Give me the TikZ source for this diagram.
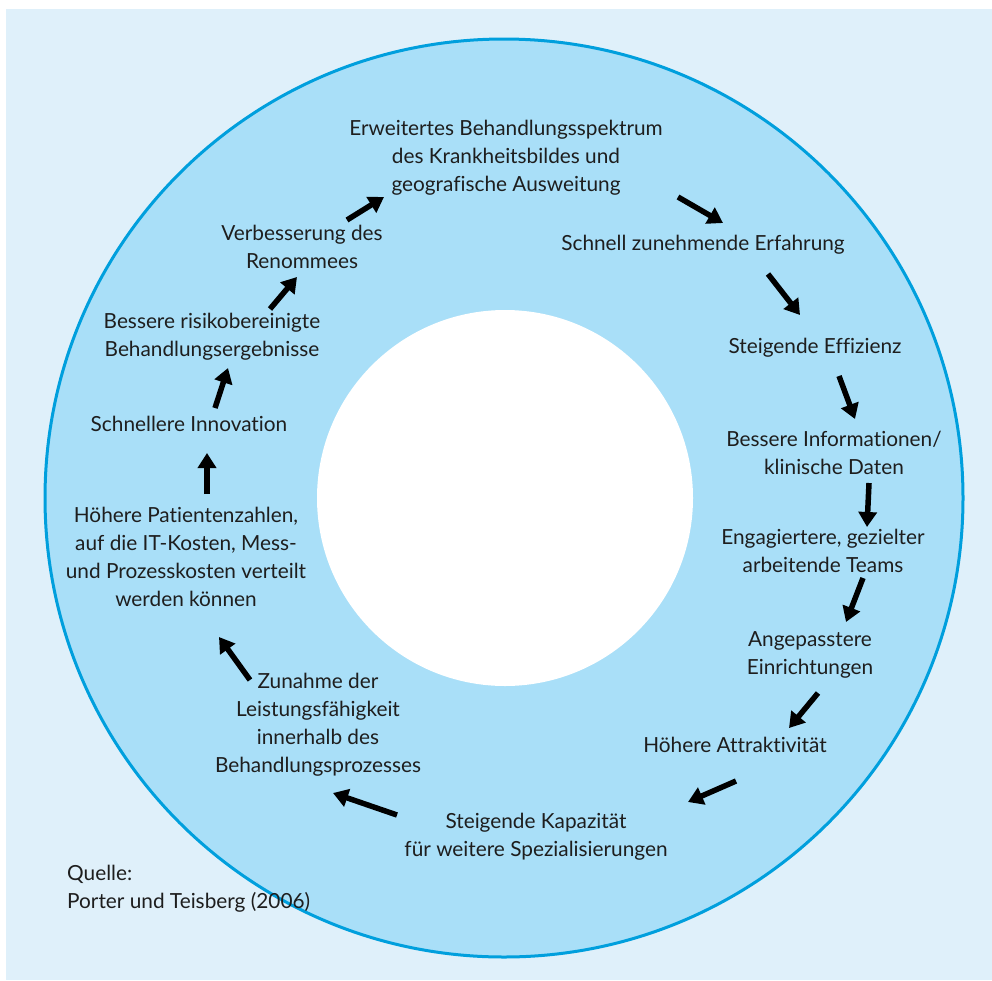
\documentclass[tikz,border=0pt]{standalone}
\usepackage{fontspec}
\setmainfont{Lato}[Ligatures={NoCommon}]
\usetikzlibrary{arrows.meta}
\definecolor{bgblue}{HTML}{DFF0FA}
\definecolor{ringblue}{HTML}{A9DFF8}
\definecolor{edgeblue}{HTML}{009FDD}
\definecolor{txt}{HTML}{1E1E1E}
\begin{document}
\begin{tikzpicture}[x=1pt,y=-1pt,
  lbl/.style={text=txt, align=center, font=\fontsize{20.8}{28}\selectfont, inner sep=0pt},
  arr/.style={line width=5.5pt, -{Triangle[width=18pt,length=15pt]}, black}]
\useasboundingbox (0,0) rectangle (992,980);
\fill[white] (0,0) rectangle (992,980);
\fill[bgblue] (6,9) rectangle (992,980);
\filldraw[fill=ringblue, draw=edgeblue, line width=3pt] (504,498) circle (459pt);
\fill[white] (505,498) circle (188pt);

\node[lbl] (n1) at (506,158) {Erweitertes Behandlungsspektrum\\des Krankheitsbildes und\\geografische Ausweitung};
\node[lbl] (n2) at (703,245) {Schnell zunehmende Erfahrung};
\node[lbl] (n3) at (815,348) {Steigende Effizienz};
\node[lbl] (n4) at (834,453) {Bessere Informationen/\\klinische Daten};
\node[lbl] (n5) at (823,551) {Engagiertere, gezielter\\arbeitende Teams};
\node[lbl] (n6) at (810,655) {Angepasstere\\Einrichtungen};
\node[lbl] (n7) at (735,745) {Höhere Attraktivität};
\node[lbl] (n8) at (536,837) {Steigende Kapazität\\für weitere Spezialisierungen};
\node[lbl] (n9) at (318,725) {Zunahme der\\Leistungsfähigkeit\\innerhalb des\\Behandlungsprozesses};
\node[lbl] (n10) at (186,557) {Höhere Patientenzahlen,\\auf die IT-Kosten, Mess-\\und Prozesskosten verteilt\\werden können};
\node[lbl] (n11) at (189,424) {Schnellere Innovation};
\node[lbl] (n12) at (212,337) {Bessere risikobereinigte\\Behandlungsergebnisse};
\node[lbl] (n13) at (302,247) {Verbesserung des\\Renommees};
\node[lbl, align=left, anchor=west] (q) at (67,889) {Quelle:\\Porter und Teisberg (2006)};

\coordinate (a1s) at (678,197);  \coordinate (a1e) at (723,223);
\coordinate (a2s) at (768,274);  \coordinate (a2e) at (800,315);
\coordinate (a3s) at (839,376);  \coordinate (a3e) at (855,419);
\coordinate (a4s) at (869,483);  \coordinate (a4e) at (867,527);
\coordinate (a5s) at (863,578);  \coordinate (a5e) at (846,622);
\coordinate (a6s) at (818,693);  \coordinate (a6e) at (789,728);
\coordinate (a7s) at (736,781);  \coordinate (a7e) at (688,802);
\coordinate (a8s) at (397,815);  \coordinate (a8e) at (333,793);
\coordinate (a9s) at (250,680);  \coordinate (a9e) at (219,637);
\coordinate (a10s) at (207,494); \coordinate (a10e) at (207,453);
\coordinate (a11s) at (215,408); \coordinate (a11e) at (228,368);
\coordinate (a12s) at (270,309); \coordinate (a12e) at (297,277);
\coordinate (a13s) at (347,220); \coordinate (a13e) at (384,197);

\foreach \i in {1,...,13} { \draw[arr] (a\i s) -- (a\i e); }
\end{tikzpicture}
\end{document}
